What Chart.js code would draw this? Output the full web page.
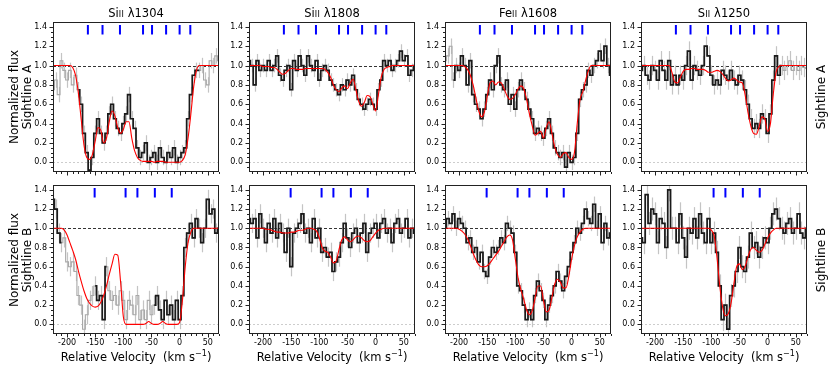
<!DOCTYPE html>
<html>
<head>
<meta charset="utf-8">
<script src="https://cdn.jsdelivr.net/npm/chart.js@4.4.1/dist/chart.umd.min.js"></script>
<style>
body { margin:0; background:#fff; font-family:'DejaVu Sans', sans-serif; }
#fig { position:relative; width:830px; height:375px; overflow:hidden; background:#fff; }
#fig canvas { position:absolute; }
.lbl { position:absolute; white-space:nowrap; color:#000; font-size:11.5px; transform:translate(-50%,-50%); }
.rot { transform:translate(-50%,-50%) rotate(-90deg); text-align:center; line-height:13px; font-size:12px; }
.ion { font-size:8px; letter-spacing:0.3px; }
sup { font-size:8px; vertical-align:5px; line-height:0; }
</style>
</head>
<body>
<div id="fig"></div>
<script>
// velocity grid (km/s) shared by all panels
const velocity = [-225,-220,-215,-210,-205,-200,-195,-190,-185,-180,-175,-170,-165,-160,-155,-150,-145,-140,-135,-130,
  -125,-120,-115,-110,-105,-100,-95,-90,-85,-80,-75,-70,-65,-60,-55,-50,-45,-40,-35,-30,
  -25,-20,-15,-10,-5,0,5,10,15,20,25,30,35,40,45,50,55,60,65,70];
const xTicks = [-200,-150,-100,-50,0,50];
const yTicks = [0,0.2,0.4,0.6,0.8,1.0,1.2,1.4];

// component velocities (blue markers)
const compA = [-163,-137,-106,-65,-49,-24,0,19];
const compB = [-151,-96,-75,-44,-14];
const compB1250 = [-96,-75,-44,-14];

// Sightline A
const fluxA1304 = [0.75,0.85,0.7,1.05,0.95,0.85,0.95,0.8,0.9,0.75, 0.6,0.3,0.1,-0.08,0.05,0.3,0.45,0.3,0.2,0.3,
  0.5,0.6,0.45,0.35,0.3,0.4,0.5,0.7,0.45,0.35, 0.15,0.05,0.1,0.2,0.0,0.05,0.1,0.0,0.15,0.05,
  0.0,0.1,0.05,0.15,0.0,0.05,0.1,0.15,0.45,0.7, 0.9,0.95,0.95,1.0,0.85,0.8,1.05,1.0,1.1,1.05];
const modelA1304 = [1,1,1,1,1,1,1,0.98,0.9,0.72, 0.45,0.18,0.05,0.03,0.08,0.22,0.36,0.33,0.2,0.25,
  0.42,0.53,0.48,0.36,0.3,0.34,0.42,0.42,0.25,0.12, 0.05,0.02,0.01,0.01,0.01,0.01,0,0.01,0.01,0.01,
  0,0,0,0,0,0,0.02,0.08,0.25,0.5, 0.78,0.95,1,1,1,1,1,1,1,1];
const fluxA1808 = [1.05,1.0,0.8,1.05,0.95,1.0,0.95,1.05,0.95,1.0, 1.1,0.9,0.85,0.95,1.0,0.75,1.05,0.95,1.1,1.0,
  0.9,1.1,1.0,0.95,1.05,0.85,0.95,1.0,0.95,0.85, 0.8,0.75,0.7,0.8,0.75,0.85,0.8,0.9,0.75,0.65,
  0.6,0.55,0.6,0.65,0.6,0.55,0.75,0.85,1.05,1.0, 1.05,0.95,1.0,1.05,1.15,1.05,1.1,0.9,0.95,1.0];
const modelA1808 = [1,1,1,1,1,0.99,0.99,0.99,0.98,0.98, 0.96,0.93,0.91,0.92,0.95,0.97,0.97,0.96,0.96,0.96,
  0.97,0.97,0.97,0.97,0.97,0.97,0.97,0.96,0.93,0.88, 0.8,0.75,0.73,0.77,0.79,0.76,0.82,0.86,0.75,0.63,
  0.58,0.62,0.69,0.68,0.6,0.53,0.7,0.88,0.96,0.98, 0.99,1,1,1,1,1,1,1,1,1];
const fluxA1608 = [1.05,1.1,1.2,0.85,1.0,0.95,1.1,1.0,0.8,1.05, 0.7,0.6,0.55,0.45,0.55,0.7,0.85,0.75,1.0,1.1,
  0.8,0.75,0.85,0.6,0.7,0.55,0.75,0.85,0.75,0.65, 0.55,0.45,0.3,0.35,0.3,0.25,0.35,0.45,0.3,0.15,
  0.1,0.05,0.1,-0.05,0.1,0.0,0.05,0.3,0.65,0.75, 0.8,0.95,0.9,1.0,1.05,1.15,1.05,1.2,1.0,0.9];
const modelA1608 = [1,1,1,1,1,1,1,0.99,0.96,0.9, 0.8,0.66,0.53,0.47,0.52,0.68,0.82,0.84,0.8,0.83,
  0.82,0.76,0.69,0.65,0.66,0.7,0.76,0.79,0.76,0.65, 0.5,0.38,0.28,0.3,0.32,0.25,0.36,0.42,0.3,0.16,
  0.08,0.05,0.09,0.1,0.05,0.03,0.1,0.4,0.65,0.73, 0.85,0.95,1,1,1,1,1,1,1,1];
const fluxA1250 = [0.95,1.0,0.9,0.85,1.0,0.95,0.85,1.05,0.95,0.85, 1.05,0.8,0.9,0.8,0.9,0.85,1.0,1.15,0.85,1.0,
  0.95,0.9,1.0,1.2,1.1,0.9,0.8,0.85,0.8,0.95, 0.9,0.85,0.95,0.85,0.8,0.9,0.85,0.75,0.6,0.45,
  0.35,0.4,0.35,0.5,0.45,0.3,0.5,0.85,1.1,0.9, 1.0,0.95,1.0,1.05,0.95,1.0,0.95,1.0,0.98,0.97];
const modelA1250 = [1,1,1,1,1,1,1,1,1,1, 1,0.93,0.83,0.82,0.88,0.94,0.96,0.96,0.97,0.97,
  0.96,0.96,0.96,0.95,0.93,0.93,0.94,0.95,0.94,0.91, 0.87,0.84,0.85,0.87,0.85,0.83,0.82,0.7,0.52,0.38,
  0.3,0.29,0.37,0.47,0.45,0.32,0.4,0.7,0.93,0.99, 1,1,1,1,1,1,1,1,1,1];

// Sightline B
const fluxB1304 = [1.3,1.2,0.95,0.85,0.9,0.65,0.6,0.65,0.55,0.3, 0.2,-0.05,0.1,0.25,0.3,0.4,0.25,0.3,0.05,0.6,
  0.35,0.25,0.3,0.2,0.35,0.25,0.05,0.25,0.2,0.1, 0.3,0.05,0.15,0.05,0.25,0.1,0.2,0.3,0.15,0.05,
  0.25,0.1,0.2,0.05,0.25,0.05,0.3,0.8,0.95,1.05, 0.9,1.1,1.0,0.85,1.0,1.3,1.15,1.2,0.95,1.0];
const modelB1304 = [1,1,1,1,0.98,0.93,0.85,0.77,0.68,0.56, 0.45,0.35,0.27,0.22,0.19,0.18,0.19,0.23,0.3,0.4,
  0.52,0.63,0.73,0.72,0.45,0.08,0,0,0,0, 0,0,0,0.01,0.03,0.01,0,0,0.01,0.03,
  0.01,0,0,0,0,0.02,0.25,0.6,0.85,0.96, 1,1,1,1,1,1,1,1,1,1];
const fluxB1808 = [1.1,1.05,1.1,0.9,1.15,1.0,0.85,1.05,0.95,1.1, 0.9,1.05,0.95,0.75,1.0,0.6,0.95,1.0,1.05,1.15,
  0.95,1.0,0.85,1.1,0.9,1.0,0.75,0.8,0.7,0.75, 0.55,0.65,0.7,0.85,1.05,0.9,0.8,0.95,1.0,0.85,
  0.95,1.05,0.75,0.95,1.0,1.05,0.9,1.05,1.1,0.95, 1.0,0.85,1.05,1.1,0.95,1.0,1.1,0.9,1.0,0.95];
const modelB1808 = [1,1,1,1,1,1,0.99,0.99,0.98,0.97, 0.96,0.96,0.95,0.95,0.95,0.96,0.96,0.97,0.98,0.98,
  0.99,1,1,0.99,0.97,0.9,0.8,0.76,0.75,0.7, 0.64,0.66,0.78,0.88,0.91,0.88,0.86,0.88,0.91,0.92,
  0.9,0.87,0.86,0.87,0.91,0.95,0.98,0.99,1,1, 1,1,1,1,1,1,1,1,1,1];
const fluxB1608 = [1.0,1.1,1.05,1.15,1.0,1.1,1.05,1.0,0.85,0.9, 0.75,0.8,0.65,0.75,0.55,0.5,0.7,0.8,0.75,0.8,
  0.9,0.85,1.05,1.0,0.95,0.75,0.4,0.35,0.2,0.05, 0.15,0.05,0.3,0.45,0.35,0.25,0.05,0.2,0.3,0.4,
  0.55,0.45,0.35,0.5,0.6,0.75,0.85,1.0,0.95,1.05, 1.2,1.1,1.05,1.25,1.0,1.15,0.85,1.05,0.9,0.95];
const modelB1608 = [1,1,1,1,1,0.99,0.97,0.94,0.89,0.82, 0.74,0.67,0.62,0.6,0.6,0.61,0.64,0.68,0.72,0.76,
  0.81,0.86,0.91,0.93,0.88,0.68,0.48,0.36,0.26,0.15, 0.1,0.14,0.27,0.4,0.4,0.25,0.13,0.15,0.28,0.42,
  0.47,0.44,0.38,0.38,0.5,0.68,0.82,0.91,0.96,0.99, 1,1,1,1,1,1,1,1,1,1];
const fluxB1250 = [0.9,0.85,1.35,1.05,1.2,1.15,0.85,1.1,1.05,0.8, 1.4,1.0,1.0,0.85,1.15,0.9,0.7,1.0,0.95,1.1,
  0.9,1.15,0.95,0.85,1.1,0.85,0.95,0.75,0.4,0.05, 0.2,-0.05,0.3,0.4,0.55,0.8,0.6,0.55,0.7,0.95,
  0.8,0.85,0.7,0.8,0.9,0.85,1.0,1.15,1.2,1.1, 1.0,0.95,1.05,1.1,0.95,1.0,1.15,0.95,0.9,1.0];
const modelB1250 = [1,1,1,1,1,1,1,1,1,1, 1,1,1,1,1,1,1,1,1,1,
  1,1,1,1,1,0.98,0.92,0.7,0.4,0.18, 0.09,0.11,0.22,0.42,0.6,0.63,0.57,0.6,0.7,0.78,
  0.8,0.77,0.75,0.77,0.83,0.9,0.95,0.98,1,1, 1,1,1,1,1,1,1,1,1,1];

const panels = [
  { row:0, col:0, flux:fluxA1304, model:modelA1304, fit:[[-180,35]], err:0.08, comps:compA },
  { row:0, col:1, flux:fluxA1808, model:modelA1808, fit:[[-225,70]], err:0.07, comps:compA },
  { row:0, col:2, flux:fluxA1608, model:modelA1608, fit:[[-212,70]], err:0.08, comps:compA },
  { row:0, col:3, flux:fluxA1250, model:modelA1250, fit:[[-225,25]], err:0.1, comps:compA },
  { row:1, col:0, flux:fluxB1304, model:modelB1304, fit:[[-225,-210],[-150,-130],[-45,70]], err:0.1, comps:compB },
  { row:1, col:1, flux:fluxB1808, model:modelB1808, fit:[[-225,70]], err:0.1, comps:compB },
  { row:1, col:2, flux:fluxB1608, model:modelB1608, fit:[[-225,70]], err:0.08, comps:compB },
  { row:1, col:3, flux:fluxB1250, model:modelB1250, fit:[[-225,70]], err:0.12, comps:compB1250 }
];
const titles = ['Si<span class="ion">II</span> λ1304', 'Si<span class="ion">II</span> λ1808',
  'Fe<span class="ion">II</span> λ1608', 'S<span class="ion">II</span> λ1250'];

const colLeft = [53, 249, 445, 641];
const rowTop = [22, 185];
const rowH = [150, 149];
const plotW = 166, axW = 34, padT = 4, padR = 4;
const fig = document.getElementById('fig');

function addLabel(html, x, y, cls) {
  const d = document.createElement('div');
  d.className = 'lbl' + (cls ? ' ' + cls : '');
  d.innerHTML = html; d.style.left = x + 'px'; d.style.top = y + 'px';
  fig.appendChild(d);
}

function panelPlugin(p) {
  return {
    id: 'panelDecor',
    beforeDatasetsDraw(chart) {
      const { ctx, chartArea: a, scales: { x, y } } = chart;
      ctx.save();
      ctx.beginPath(); ctx.rect(a.left, a.top, a.width, a.height); ctx.clip();
      const hline = (v) => { const py = Math.round(y.getPixelForValue(v)) + 0.5; ctx.beginPath(); ctx.moveTo(a.left, py); ctx.lineTo(a.right, py); ctx.stroke(); };
      ctx.lineWidth = 0.8;
      ctx.strokeStyle = '#c0c0c0'; ctx.setLineDash([2, 2]); hline(0);
      ctx.strokeStyle = '#000'; ctx.setLineDash([3, 2]); hline(1);
      ctx.setLineDash([]);
      ctx.strokeStyle = '#c4c4c4'; ctx.lineWidth = 1.2;
      p.flux.forEach((f, i) => {
        const px = Math.round(x.getPixelForValue(velocity[i])) + 0.5;
        ctx.beginPath(); ctx.moveTo(px, y.getPixelForValue(f - p.err)); ctx.lineTo(px, y.getPixelForValue(f + p.err)); ctx.stroke();
      });
      ctx.restore();
    },
    afterDraw(chart) {
      const { ctx, chartArea: a, scales: { x, y } } = chart;
      ctx.save();
      ctx.strokeStyle = '#222'; ctx.lineWidth = 1;
      ctx.strokeRect(Math.round(a.left) + 0.5, Math.round(a.top) + 0.5, Math.round(a.width) - 1, Math.round(a.height) - 1);
      ctx.beginPath();
      for (let v = -220; v <= 70; v += 10) {
        const px = Math.round(x.getPixelForValue(v)) + 0.5, len = v % 50 === 0 ? 3.5 : 2;
        ctx.moveTo(px, a.bottom); ctx.lineTo(px, a.bottom + len);
      }
      for (let k = -1; k <= 28; k++) {
        const py = Math.round(y.getPixelForValue(k * 0.05)) + 0.5, len = k % 4 === 0 ? 3.5 : 2;
        ctx.moveTo(a.left, py); ctx.lineTo(a.left - len, py);
      }
      ctx.stroke();
      ctx.restore();
    }
  };
}

panels.forEach(p => {
  const L = colLeft[p.col], T = rowTop[p.row], H = rowH[p.row];
  const axH = p.row ? 26 : 8;
  const cv = document.createElement('canvas');
  cv.width = axW + plotW + padR; cv.height = padT + H + axH;
  cv.style.left = (L - axW) + 'px'; cv.style.top = (T - padT) + 'px';
  fig.appendChild(cv);

  const inFit = v => p.fit.some(([a, b]) => v >= a && v <= b);
  const gray = velocity.map((v, i) => ({ x: v, y: p.flux[i] }));
  const black = velocity.map((v, i) => ({ x: v, y: inFit(v) ? p.flux[i] : null }));
  const model = velocity.map((v, i) => ({ x: v, y: p.model[i] }));
  const marks = p.comps.flatMap(v => [{ x: v, y: 1.32 }, { x: v, y: 1.42 }, { x: v, y: null }]);
  const tickFont = { family: 'DejaVu Sans', size: 8 };
  const noPad = s => { s.paddingTop = 0; s.paddingBottom = 0; s.paddingLeft = 0; s.paddingRight = 0; };

  new Chart(cv, {
    type: 'line',
    data: { datasets: [
      { data: marks, borderColor: '#0000ff', borderWidth: 2, borderCapStyle: 'butt', spanGaps: false },
      { data: model, borderColor: '#ff0000', borderWidth: 1.1, cubicInterpolationMode: 'monotone' },
      { data: black, borderColor: '#1a1a1a', borderWidth: 1.7, stepped: 'middle', spanGaps: false },
      { data: gray, borderColor: '#a8a8a8', borderWidth: 1.1, stepped: 'middle' }
    ] },
    options: {
      responsive: false, animation: false, events: [],
      layout: { padding: { top: padT, right: padR, left: 0, bottom: 0 } },
      plugins: { legend: { display: false }, tooltip: { enabled: false } },
      elements: { point: { radius: 0 } },
      scales: {
        x: {
          type: 'linear', min: -225, max: 70,
          grid: { display: false, drawTicks: false }, border: { display: false },
          afterBuildTicks: s => { s.ticks = xTicks.map(v => ({ value: v })); },
          afterFit: s => { s.height = axH; noPad(s); },
          ticks: { display: p.row === 1, padding: 4, color: '#000', font: tickFont, maxRotation: 0,
            callback: v => (v < 0 ? '-' + (-v) : '' + v) }
        },
        y: {
          type: 'linear', min: -0.1, max: 1.45,
          grid: { display: false, drawTicks: false }, border: { display: false },
          afterBuildTicks: s => { s.ticks = yTicks.map(v => ({ value: v })); },
          afterFit: s => { s.width = axW; noPad(s); },
          ticks: { padding: 6, color: '#000', font: tickFont, callback: v => v.toFixed(1) }
        }
      }
    },
    plugins: [panelPlugin(p)]
  });
});

// titles and axis labels as real text
titles.forEach((t, c) => addLabel(t, colLeft[c] + plotW / 2, 13));
['A', 'B'].forEach((s, r) => {
  const cy = rowTop[r] + rowH[r] / 2;
  addLabel('Normalized flux<br>Sightline ' + s, 21, cy, 'rot');
  addLabel('Sightline ' + s, 821, cy, 'rot');
});
colLeft.forEach(L => addLabel('Relative Velocity&nbsp; (km s<sup>−1</sup>)', L + plotW / 2, 357));
</script>
</body>
</html>
